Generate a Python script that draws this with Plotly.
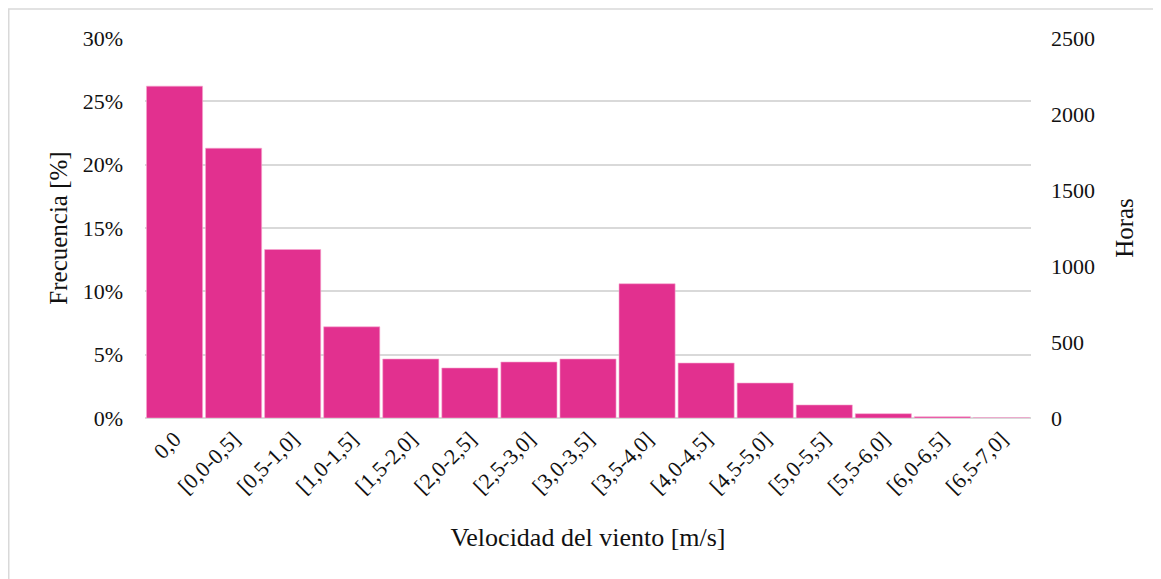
import plotly.graph_objects as go

categorias = ["0,0", "[0,0-0,5]", "[0,5-1,0]", "[1,0-1,5]", "[1,5-2,0]", "[2,0-2,5]",
              "[2,5-3,0]", "[3,0-3,5]", "[3,5-4,0]", "[4,0-4,5]", "[4,5-5,0]",
              "[5,0-5,5]", "[5,5-6,0]", "[6,0-6,5]", "[6,5-7,0]"]
frecuencia = [26.2, 21.3, 13.3, 7.2, 4.66, 3.95, 4.42, 4.66, 10.6, 4.34, 2.76, 1.03, 0.34, 0.1, 0.02]

pct_ticks = [0, 5, 10, 15, 20, 25, 30]
pct_labels = ["0%", "5%", "10%", "15%", "20%", "25%", "30%"]
horas_ticks = [0, 500, 1000, 1500, 2000, 2500]

W, H = 1161, 579
L, R, T, B = 137, 138, 30, 169
pw, ph = W - L - R, H - T - B

fig = go.Figure()
fig.add_trace(go.Bar(x=categorias, y=frecuencia,
                     marker=dict(color="#E2308F", line=dict(color="#F7A8D0", width=0.6)),
                     showlegend=False, hoverinfo="x+y"))
# eje secundario (horas)
fig.add_trace(go.Scatter(x=[categorias[0]], y=[0], yaxis="y2", mode="lines",
                         showlegend=False, hoverinfo="skip"))

font = "Liberation Serif, Times New Roman, serif"
fig.update_layout(
    width=W, height=H,
    margin=dict(l=L, r=R, t=T, b=B, autoexpand=False),
    plot_bgcolor="white", paper_bgcolor="white",
    font=dict(family=font, size=22, color="#111111"),
    bargap=0.05,
    xaxis=dict(range=[-0.5, len(categorias) - 0.5], tickangle=-45, showgrid=False,
               showline=False, ticks="", tickfont=dict(size=22), ticklabelstandoff=3,
               title=dict(text="Velocidad del viento [m/s]", font=dict(size=26), standoff=30)),
    yaxis=dict(range=[0, 30], tickvals=pct_ticks, ticktext=pct_labels,
               showgrid=True, gridcolor="#d9d9d9", gridwidth=1.5, zeroline=True,
               zerolinecolor="#d9d9d9", zerolinewidth=1.5, ticks="", ticklabelstandoff=21,
               title=dict(text="Frecuencia [%]", font=dict(size=25), standoff=7)),
    yaxis2=dict(range=[0, 2500], tickvals=horas_ticks, overlaying="y", side="right",
                showgrid=False, zeroline=False, ticks="", ticklabelstandoff=19,
                title=dict(text="Horas", font=dict(size=25), standoff=21)),
    shapes=[dict(type="rect", xref="paper", yref="paper",
                 x0=(0.75 - L) / pw, x1=(W - 1 - L) / pw,
                 y0=(B - H + 1) / ph, y1=(H - B - 1) / ph,
                 line=dict(color="#d9d9d9", width=1.5), layer="below")],
)

fig.write_html("out.html")
